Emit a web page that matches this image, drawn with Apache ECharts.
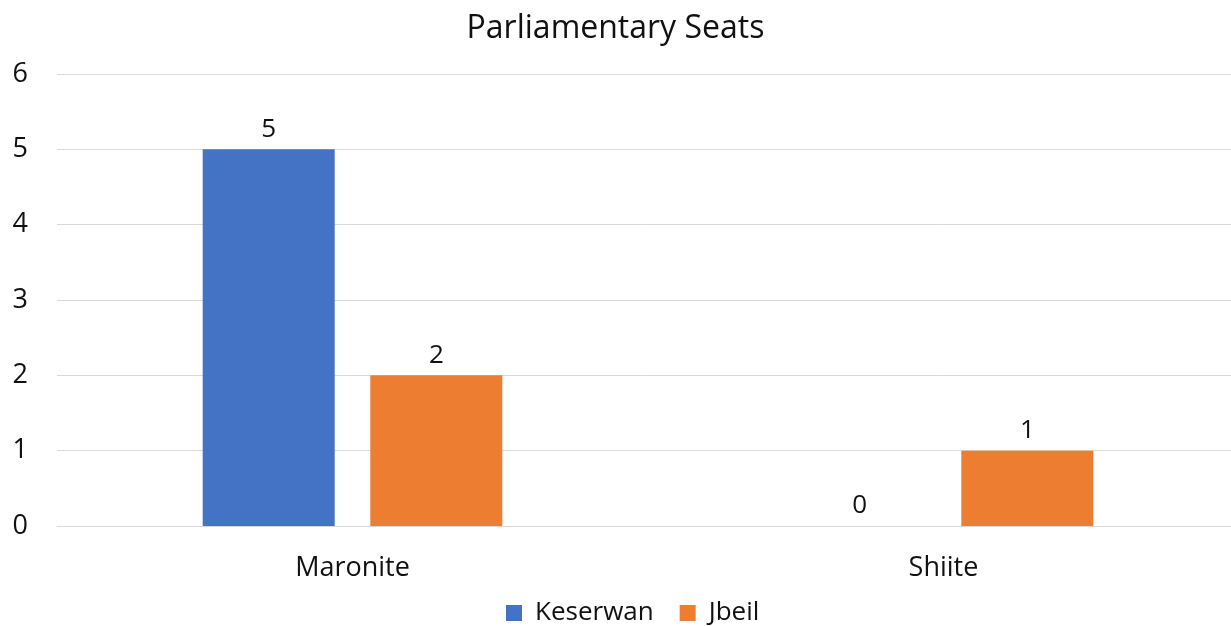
<!DOCTYPE html>
<html>
<head>
<meta charset="utf-8">
<script src="https://cdn.jsdelivr.net/npm/echarts@6/dist/echarts.min.js"></script>
<style>
  html, body { margin: 0; padding: 0; background: #fff; }
  #chart { width: 1231px; height: 626px; }
</style>
</head>
<body>
<div id="chart"></div>
<script>
const categories = ["Maronite", "Shiite"];
const keserwan = [5, 0];
const jbeil = [2, 1];
const yTicks = [0, 6, 1]; // min, max, interval

const font = "'Open Sans', Lato, sans-serif";
const chart = echarts.init(document.getElementById("chart"));

const labelStyle = {
  show: true,
  position: "top",
  distance: 7,
  color: "#111",
  fontSize: 26,
  fontFamily: font,
};

chart.setOption({
  animation: false,
  title: {
    text: "Parliamentary Seats",
    left: "center",
    top: 8,
    textStyle: { fontSize: 32, fontWeight: "normal", color: "#111", fontFamily: font },
  },
  legend: {
    data: ["Keserwan", "Jbeil"],
    top: 595,
    left: 501,
    icon: "rect",
    itemWidth: 16,
    itemHeight: 16,
    itemGap: 26,
    textStyle: { fontSize: 26, color: "#111", fontFamily: font, padding: [0, 0, 0, 8] },
  },
  grid: { left: 57, top: 74, width: 1182, bottom: 100, outerBoundsMode: "none", containLabel: false },
  xAxis: {
    type: "category",
    data: categories,
    axisLine: { lineStyle: { color: "#d9d9d9", width: 1 } },
    axisTick: { show: false },
    axisLabel: { fontSize: 27, color: "#111", margin: 29, fontFamily: font },
  },
  yAxis: {
    type: "value",
    min: yTicks[0],
    max: yTicks[1],
    interval: yTicks[2],
    axisLine: { show: false },
    axisTick: { show: false },
    splitLine: { lineStyle: { color: "#d9d9d9", width: 1 } },
    axisLabel: { fontSize: 27, color: "#111", margin: 29, fontFamily: font },
  },
  series: [
    {
      name: "Keserwan",
      type: "bar",
      data: keserwan,
      barWidth: 132,
      barGap: "27%",
      itemStyle: { color: "#4472c4" },
      label: labelStyle,
    },
    {
      name: "Jbeil",
      type: "bar",
      data: jbeil,
      barWidth: 132,
      barGap: "27%",
      itemStyle: { color: "#ed7d31" },
      label: labelStyle,
    },
  ],
});
</script>
</body>
</html>
